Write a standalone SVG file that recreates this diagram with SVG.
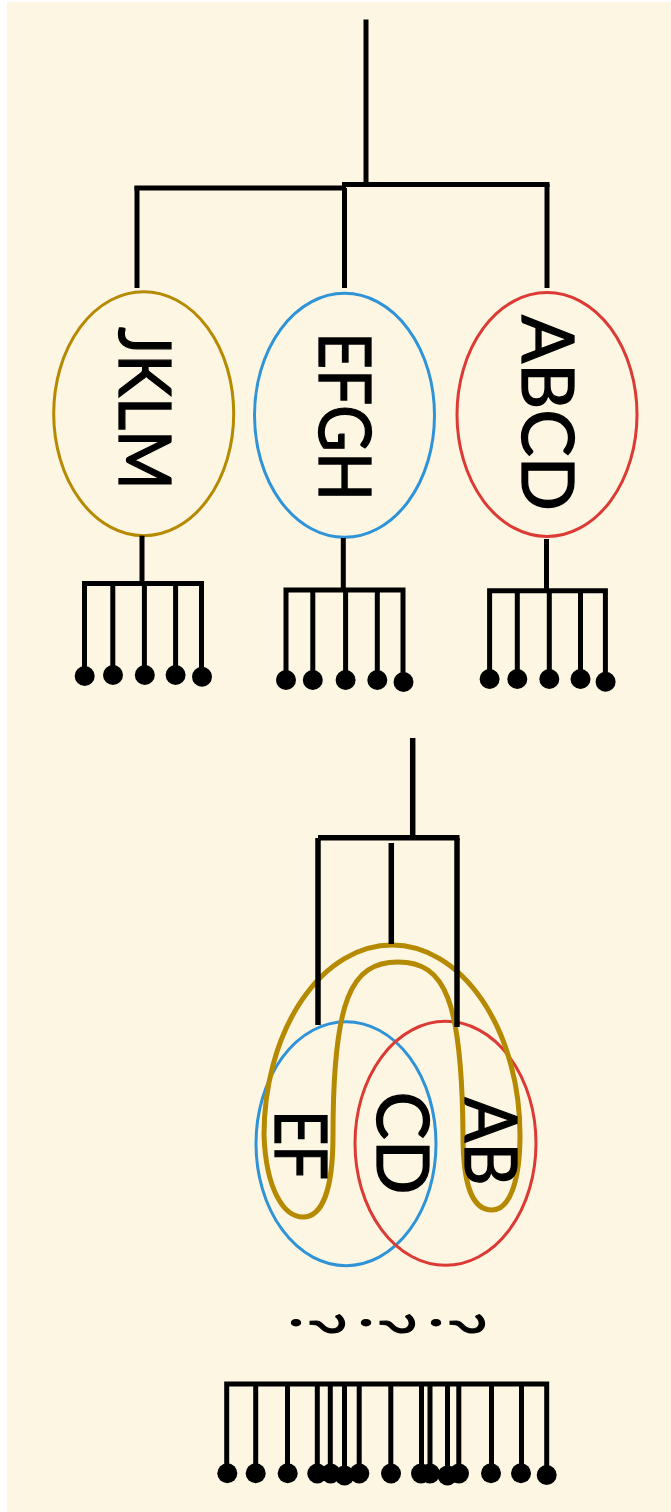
<svg xmlns="http://www.w3.org/2000/svg" width="671" height="1512" viewBox="0 0 671 1512">
  <style>
    .bg { fill: #fdf6e3; }
    .edge { fill: none; stroke: #000; stroke-width: 5; stroke-linecap: butt; stroke-linejoin: miter; }
    .edge-bold { fill: none; stroke: #000; stroke-width: 5.5; stroke-linecap: butt; }
    .leaf { fill: #000; }
    .ring { fill: none; stroke-width: 3; }
    .gold { stroke: #b58900; }
    .blue { stroke: #2f93d8; }
    .red { stroke: #dc3a35; }
    .loop { fill: none; stroke: #b58900; stroke-width: 5; }
    .label { font-family: Lato, "Open Sans", "Liberation Sans", sans-serif; font-size: 71px; fill: #000; stroke: #000; stroke-width: 1.3; text-anchor: middle; }
  </style>

  <rect width="671" height="1512" fill="#ffffff"/>
  <rect class="bg" x="7" y="2" width="664" height="1510"/>

  <!-- upper tree: three sets -->
  <g id="node-jklm">
    <ellipse class="ring gold" cx="143.7" cy="413.7" rx="90" ry="122"/>
    <text class="label" transform="translate(119 408.5) rotate(90)" textLength="163" lengthAdjust="spacingAndGlyphs">JKLM</text>
  </g>
  <g id="node-efgh">
    <ellipse class="ring blue" cx="344.5" cy="415.3" rx="90" ry="122"/>
    <text class="label" transform="translate(319 416.5) rotate(90)" textLength="169" lengthAdjust="spacingAndGlyphs">EFGH</text>
  </g>
  <g id="node-abcd">
    <ellipse class="ring red" cx="547" cy="414.5" rx="90" ry="122"/>
    <text class="label" transform="translate(521.6 413) rotate(90)" textLength="196" lengthAdjust="spacingAndGlyphs">ABCD</text>
  </g>

  <!-- lower tree: overlapping sets -->
  <g id="node-ef">
    <ellipse class="ring blue" cx="346" cy="1143.7" rx="90" ry="122"/>
  </g>
  <g id="node-cd">
    <ellipse class="ring red" cx="445.5" cy="1143.3" rx="90.5" ry="122"/>
  </g>
  <g id="node-efab">
    <path class="loop" d="M520 1135 C520 1180 510 1210 492 1210 C472 1210 463 1185 463 1135 C462 1000 445 962 398 962 C351 962 333 1000 333 1135 C333 1190 322 1217 303 1217 C284 1217 266 1190 264 1135 A128 190 0 0 1 520 1135 Z"/>
  </g>
  <g id="labels-lower">
    <text class="label" transform="translate(275 1145) rotate(90)" textLength="70" lengthAdjust="spacingAndGlyphs">EF</text>
    <text class="label" transform="translate(376.7 1143) rotate(90)" textLength="103" lengthAdjust="spacingAndGlyphs">CD</text>
    <text class="label" transform="translate(465 1141.5) rotate(90)" textLength="88" lengthAdjust="spacingAndGlyphs">AB</text>
  </g>
  <g id="node-unknown">
    <text class="label" transform="translate(292 1324) rotate(90) scale(0.72 1)" stroke-width="2.5">?</text>
    <text class="label" transform="translate(362 1324) rotate(90) scale(0.72 1)" stroke-width="2.5">?</text>
    <text class="label" transform="translate(432 1324) rotate(90) scale(0.72 1)" stroke-width="2.5">?</text>
  </g>

  <!-- leaf combs -->
  <g id="leaves-jklm">
    <path class="edge" d="M84.5 676 V583.5 H201.5 V676 M112.8 583.5 V676 M144.4 583.5 V676 M175.6 583.5 V676"/>
    <circle class="leaf" cx="84.7" cy="676" r="10"/>
    <circle class="leaf" cx="113" cy="675" r="10"/>
    <circle class="leaf" cx="144.8" cy="675" r="10"/>
    <circle class="leaf" cx="175.6" cy="675" r="10"/>
    <circle class="leaf" cx="202" cy="676.7" r="10"/>
  </g>
  <g id="leaves-efgh">
    <path class="edge" d="M286 680 V590 H403 V681 M312.8 590 V680 M345.6 590 V680 M377.3 590 V680"/>
    <circle class="leaf" cx="286" cy="680" r="10"/>
    <circle class="leaf" cx="312.8" cy="680" r="10"/>
    <circle class="leaf" cx="345.6" cy="680" r="10"/>
    <circle class="leaf" cx="377.3" cy="680" r="10"/>
    <circle class="leaf" cx="403.5" cy="682" r="10"/>
  </g>
  <g id="leaves-abcd">
    <path class="edge" d="M489.6 679 V590.7 H605.4 V681 M517.3 590.7 V679 M549.3 590.7 V679 M580.5 590.7 V679"/>
    <circle class="leaf" cx="489.6" cy="679" r="10"/>
    <circle class="leaf" cx="517.3" cy="679" r="10"/>
    <circle class="leaf" cx="549.3" cy="679" r="10"/>
    <circle class="leaf" cx="580.5" cy="679" r="10"/>
    <circle class="leaf" cx="605.6" cy="681.7" r="10"/>
  </g>
  <g id="leaves-merged">
    <path class="edge" d="M226.7 1473 V1384 H546.7 V1475 M255.7 1384 V1473 M287.5 1384 V1473 M317.3 1384 V1473 M330.3 1384 V1473 M344.5 1384 V1475 M359.2 1384 V1473 M390.8 1384 V1473 M421.5 1384 V1473 M430 1384 V1473 M447.5 1384 V1475 M458.8 1384 V1473 M491.5 1384 V1473 M521.5 1384 V1473"/>
    <circle class="leaf" cx="227.3" cy="1473.3" r="10"/>
    <circle class="leaf" cx="255.7" cy="1473.3" r="10"/>
    <circle class="leaf" cx="287.7" cy="1473.3" r="10"/>
    <circle class="leaf" cx="317.3" cy="1473.5" r="10"/>
    <circle class="leaf" cx="330.7" cy="1473.5" r="10"/>
    <circle class="leaf" cx="344.5" cy="1475.5" r="10"/>
    <circle class="leaf" cx="359.3" cy="1473.5" r="10"/>
    <circle class="leaf" cx="391" cy="1473.5" r="10"/>
    <circle class="leaf" cx="421" cy="1473.5" r="10"/>
    <circle class="leaf" cx="430" cy="1473.5" r="10"/>
    <circle class="leaf" cx="447.5" cy="1475.5" r="10"/>
    <circle class="leaf" cx="459" cy="1473.5" r="10"/>
    <circle class="leaf" cx="491" cy="1473.3" r="10"/>
    <circle class="leaf" cx="521" cy="1473.3" r="10"/>
    <circle class="leaf" cx="546.7" cy="1475" r="10"/>
  </g>

  <!-- connectors -->
  <g id="connectors">
    <path class="edge" d="M366 19.5 V185"/>
    <path class="edge" d="M342 184.5 H549.5"/>
    <path class="edge" d="M134.5 188 H346"/>
    <path class="edge" d="M137 186 V288"/>
    <path class="edge" d="M344.5 188 V288"/>
    <path class="edge" d="M547 184 V288"/>
    <path class="edge" d="M142 535.7 V583.5"/>
    <path class="edge" d="M343.3 538 V590"/>
    <path class="edge" d="M546.5 539 V590.7"/>
    <path class="edge-bold" d="M412.7 738 V838"/>
    <path class="edge-bold" d="M318 837.7 H459.5"/>
    <path class="edge-bold" d="M318 838 V1025"/>
    <path class="edge-bold" d="M391.3 843 V944"/>
    <path class="edge-bold" d="M457 838 V1027"/>
  </g>
</svg>
